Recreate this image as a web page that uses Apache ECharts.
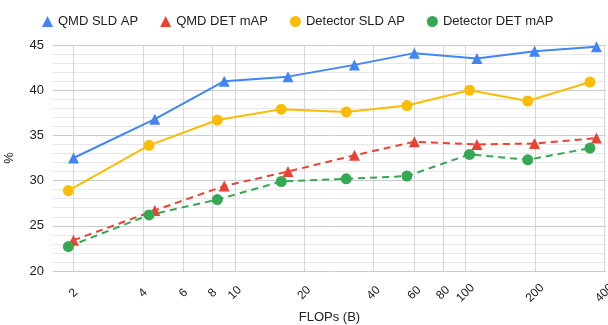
<!DOCTYPE html>
<html style="height: 100%">
    <head>
        <meta charset="utf-8">
    </head>
    <body style="height: 100%; margin: 0">
        <div id="container" style="height: 100%"></div>

        <script type="text/javascript" src="https://cdn.jsdelivr.net/npm/echarts@6/dist/echarts.min.js"></script>

        <script type="text/javascript">
var dom = document.getElementById("container");
var myChart = echarts.init(dom);

// FLOPs (B) per model size
var qmdFlops = [2.0, 4.5, 9.0, 17, 33, 60, 112, 199, 369];
var detFlops = [1.9, 4.25, 8.4, 15.9, 30.4, 55.7, 104, 186, 346];

var qmdSldAP = [32.5, 36.8, 41.0, 41.5, 42.8, 44.1, 43.5, 44.3, 44.8];
var qmdDetMAP = [23.4, 26.7, 29.4, 31.0, 32.8, 34.3, 34.0, 34.1, 34.7];
var detSldAP = [28.9, 33.9, 36.7, 37.9, 37.6, 38.3, 40.0, 38.8, 40.9];
var detDetMAP = [22.7, 26.2, 27.9, 29.9, 30.2, 30.5, 32.9, 32.3, 33.6];

var xTicks = [2, 4, 6, 8, 10, 20, 40, 60, 80, 100, 200, 400];

function pairs(xs, ys) {
  return xs.map(function (x, i) { return [x, ys[i]]; });
}

var option = {
  animation: false,
  textStyle: { fontFamily: 'Liberation Sans, Arial, sans-serif' },
  legend: {
    top: 10,
    left: 37,
    itemWidth: 11,
    itemHeight: 11,
    itemGap: 22,
    textStyle: { fontSize: 13, color: '#222' },
    data: [
      { name: 'QMD SLD AP', icon: 'triangle' },
      { name: 'QMD DET mAP', icon: 'triangle' },
      { name: 'Detector SLD AP', icon: 'circle' },
      { name: 'Detector DET mAP', icon: 'circle' }
    ]
  },
  grid: { left: 53, right: 2, top: 45, bottom: 54, outerBoundsMode: 'none', containLabel: false },
  xAxis: {
    type: 'log',
    min: 1.63,
    max: 406,
    name: 'FLOPs (B)',
    nameLocation: 'middle',
    nameGap: 37,
    nameTextStyle: { fontSize: 13, color: '#222' },
    axisLine: { show: false },
    axisTick: { show: false, customValues: xTicks },
    axisLabel: {
      customValues: xTicks,
      rotate: 45,
      align: 'center',
      verticalAlign: 'middle',
      fontSize: 12,
      color: '#222',
      margin: 22
    },
    splitLine: { show: true, lineStyle: { color: '#d6d6d6', width: 1 } }
  },
  yAxis: {
    type: 'value',
    min: 20,
    max: 45,
    interval: 5,
    name: '%',
    nameLocation: 'middle',
    nameGap: 37,
    nameTextStyle: { fontSize: 13, color: '#222' },
    axisLine: { show: false },
    axisTick: { show: false },
    axisLabel: { fontSize: 13, color: '#222', margin: 9 },
    splitLine: { lineStyle: { color: '#cccccc', width: 1 } },
    minorTick: { show: false, splitNumber: 5 },
    minorSplitLine: { show: true, lineStyle: { color: '#e8e8e8', width: 1 } }
  },
  series: [
    {
      name: 'QMD SLD AP',
      type: 'line',
      data: pairs(qmdFlops, qmdSldAP),
      symbol: 'triangle',
      symbolSize: 11,
      color: '#4285F4',
      lineStyle: { width: 2 }
    },
    {
      name: 'QMD DET mAP',
      type: 'line',
      data: pairs(qmdFlops, qmdDetMAP),
      symbol: 'triangle',
      symbolSize: 11,
      color: '#EA4335',
      lineStyle: { width: 2, type: [7, 5] }
    },
    {
      name: 'Detector SLD AP',
      type: 'line',
      data: pairs(detFlops, detSldAP),
      symbol: 'circle',
      symbolSize: 11,
      color: '#FBBC04',
      lineStyle: { width: 2 }
    },
    {
      name: 'Detector DET mAP',
      type: 'line',
      data: pairs(detFlops, detDetMAP),
      symbol: 'circle',
      symbolSize: 11,
      color: '#34A853',
      lineStyle: { width: 2, type: [7, 5] }
    }
  ]
};

myChart.setOption(option);
        </script>
    </body>
</html>
